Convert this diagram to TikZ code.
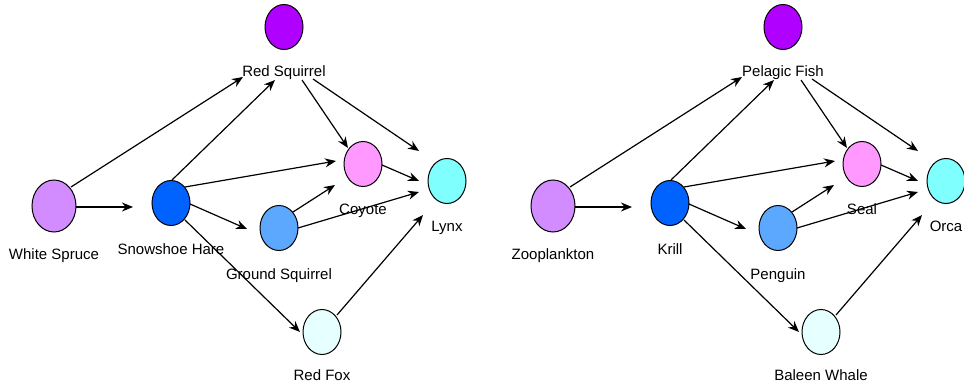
\documentclass[tikz,border=0pt]{standalone}
\usepackage{fontspec}
\setmainfont{Liberation Sans}
\usetikzlibrary{shapes.geometric,arrows.meta}
\definecolor{cTop}{HTML}{B000FF}
\definecolor{cBase}{HTML}{D38CFF}
\definecolor{cHerb}{HTML}{0062FF}
\definecolor{cSmall}{HTML}{5CA8FF}
\definecolor{cMid}{HTML}{FF99FF}
\definecolor{cApex}{HTML}{80FFFF}
\definecolor{cLow}{HTML}{E6FFFF}
\tikzset{
  sp/.style={ellipse,draw=black,line width=1pt,minimum width=38pt,minimum height=45pt,inner sep=0pt},
  bigsp/.style={sp,minimum width=44pt,minimum height=52pt},
  lbl/.style={anchor=base,inner sep=0pt,font=\fontsize{15}{18}\selectfont,text=black},
  arr/.style={draw=black,line width=1.2pt,-{Stealth[length=11pt,width=9pt,inset=3.5pt]}}
}
\newcommand\webpart[7]{%
  \node[sp,fill=cTop] (rs) at (284,27) {};
  \node[bigsp,fill=cBase] (ws) at (54,206) {};
  \node[sp,fill=cHerb] (sh) at (171,203) {};
  \node[sp,fill=cSmall] (gs) at (279,228) {};
  \node[sp,fill=cMid] (coy) at (363,164) {};
  \node[sp,fill=cApex] (lynx) at (447,181) {};
  \node[sp,fill=cLow] (rf) at (322,332) {};
  \node[lbl] (rsl) at (284,77) {#1};
  \node[lbl] (wsl) at (54,259) {#2};
  \node[lbl] (shl) at (171,254) {#3};
  \node[lbl] (gsl) at (279,279) {#4};
  \node[lbl] (coyl) at (363,214) {#5};
  \node[lbl] (lynxl) at (447,231) {#6};
  \node[lbl] (rfl) at (322,380) {#7};
  \draw[arr] ([shift={(17,-19)}]ws.center) -- ([shift={(-41,50)}]rs.center);
  \draw[arr] ([shift={(22,1)}]ws.center) -- ([shift={(-38,4)}]sh.center);
  \draw[arr] ([shift={(1,-23)}]sh.center) -- ([shift={(-9,53)}]rs.center);
  \draw[arr] ([shift={(14,-16)}]sh.center) -- ([shift={(-27,-3)}]coy.center);
  \draw[arr] ([shift={(19,1)}]sh.center) -- ([shift={(-32,1)}]gs.center);
  \draw[arr] ([shift={(14,17)}]sh.center) -- ([shift={(-22,0)}]rf.center);
  \draw[arr] ([shift={(18,53)}]rs.center) -- ([shift={(-15,-16)}]coy.center);
  \draw[arr] ([shift={(29,52)}]rs.center) -- ([shift={(-28,-30)}]lynx.center);
  \draw[arr] ([shift={(19,1)}]coy.center) -- ([shift={(-28,0)}]lynx.center);
  \draw[arr] ([shift={(14,-16)}]gs.center) -- ([shift={(-28,21)}]coy.center);
  \draw[arr] ([shift={(19,0)}]gs.center) -- ([shift={(-28,11)}]lynx.center);
  \draw[arr] ([shift={(15,-17)}]rf.center) -- ([shift={(-24,34)}]lynx.center);
}
\begin{document}
\begin{tikzpicture}[x=1pt,y=-1pt]
  \fill[white] (0,0) rectangle (964,385);
  \useasboundingbox (0,0) rectangle (964,385);
  \begin{scope}[name prefix=L-]
    \webpart{Red Squirrel}{White Spruce}{Snowshoe Hare}{Ground Squirrel}{Coyote}{Lynx}{Red Fox}
  \end{scope}
  \begin{scope}[xshift=499pt,name prefix=R-]
    \webpart{Pelagic Fish}{Zooplankton}{Krill}{Penguin}{Seal}{Orca}{Baleen Whale}
  \end{scope}
\end{tikzpicture}
\end{document}
